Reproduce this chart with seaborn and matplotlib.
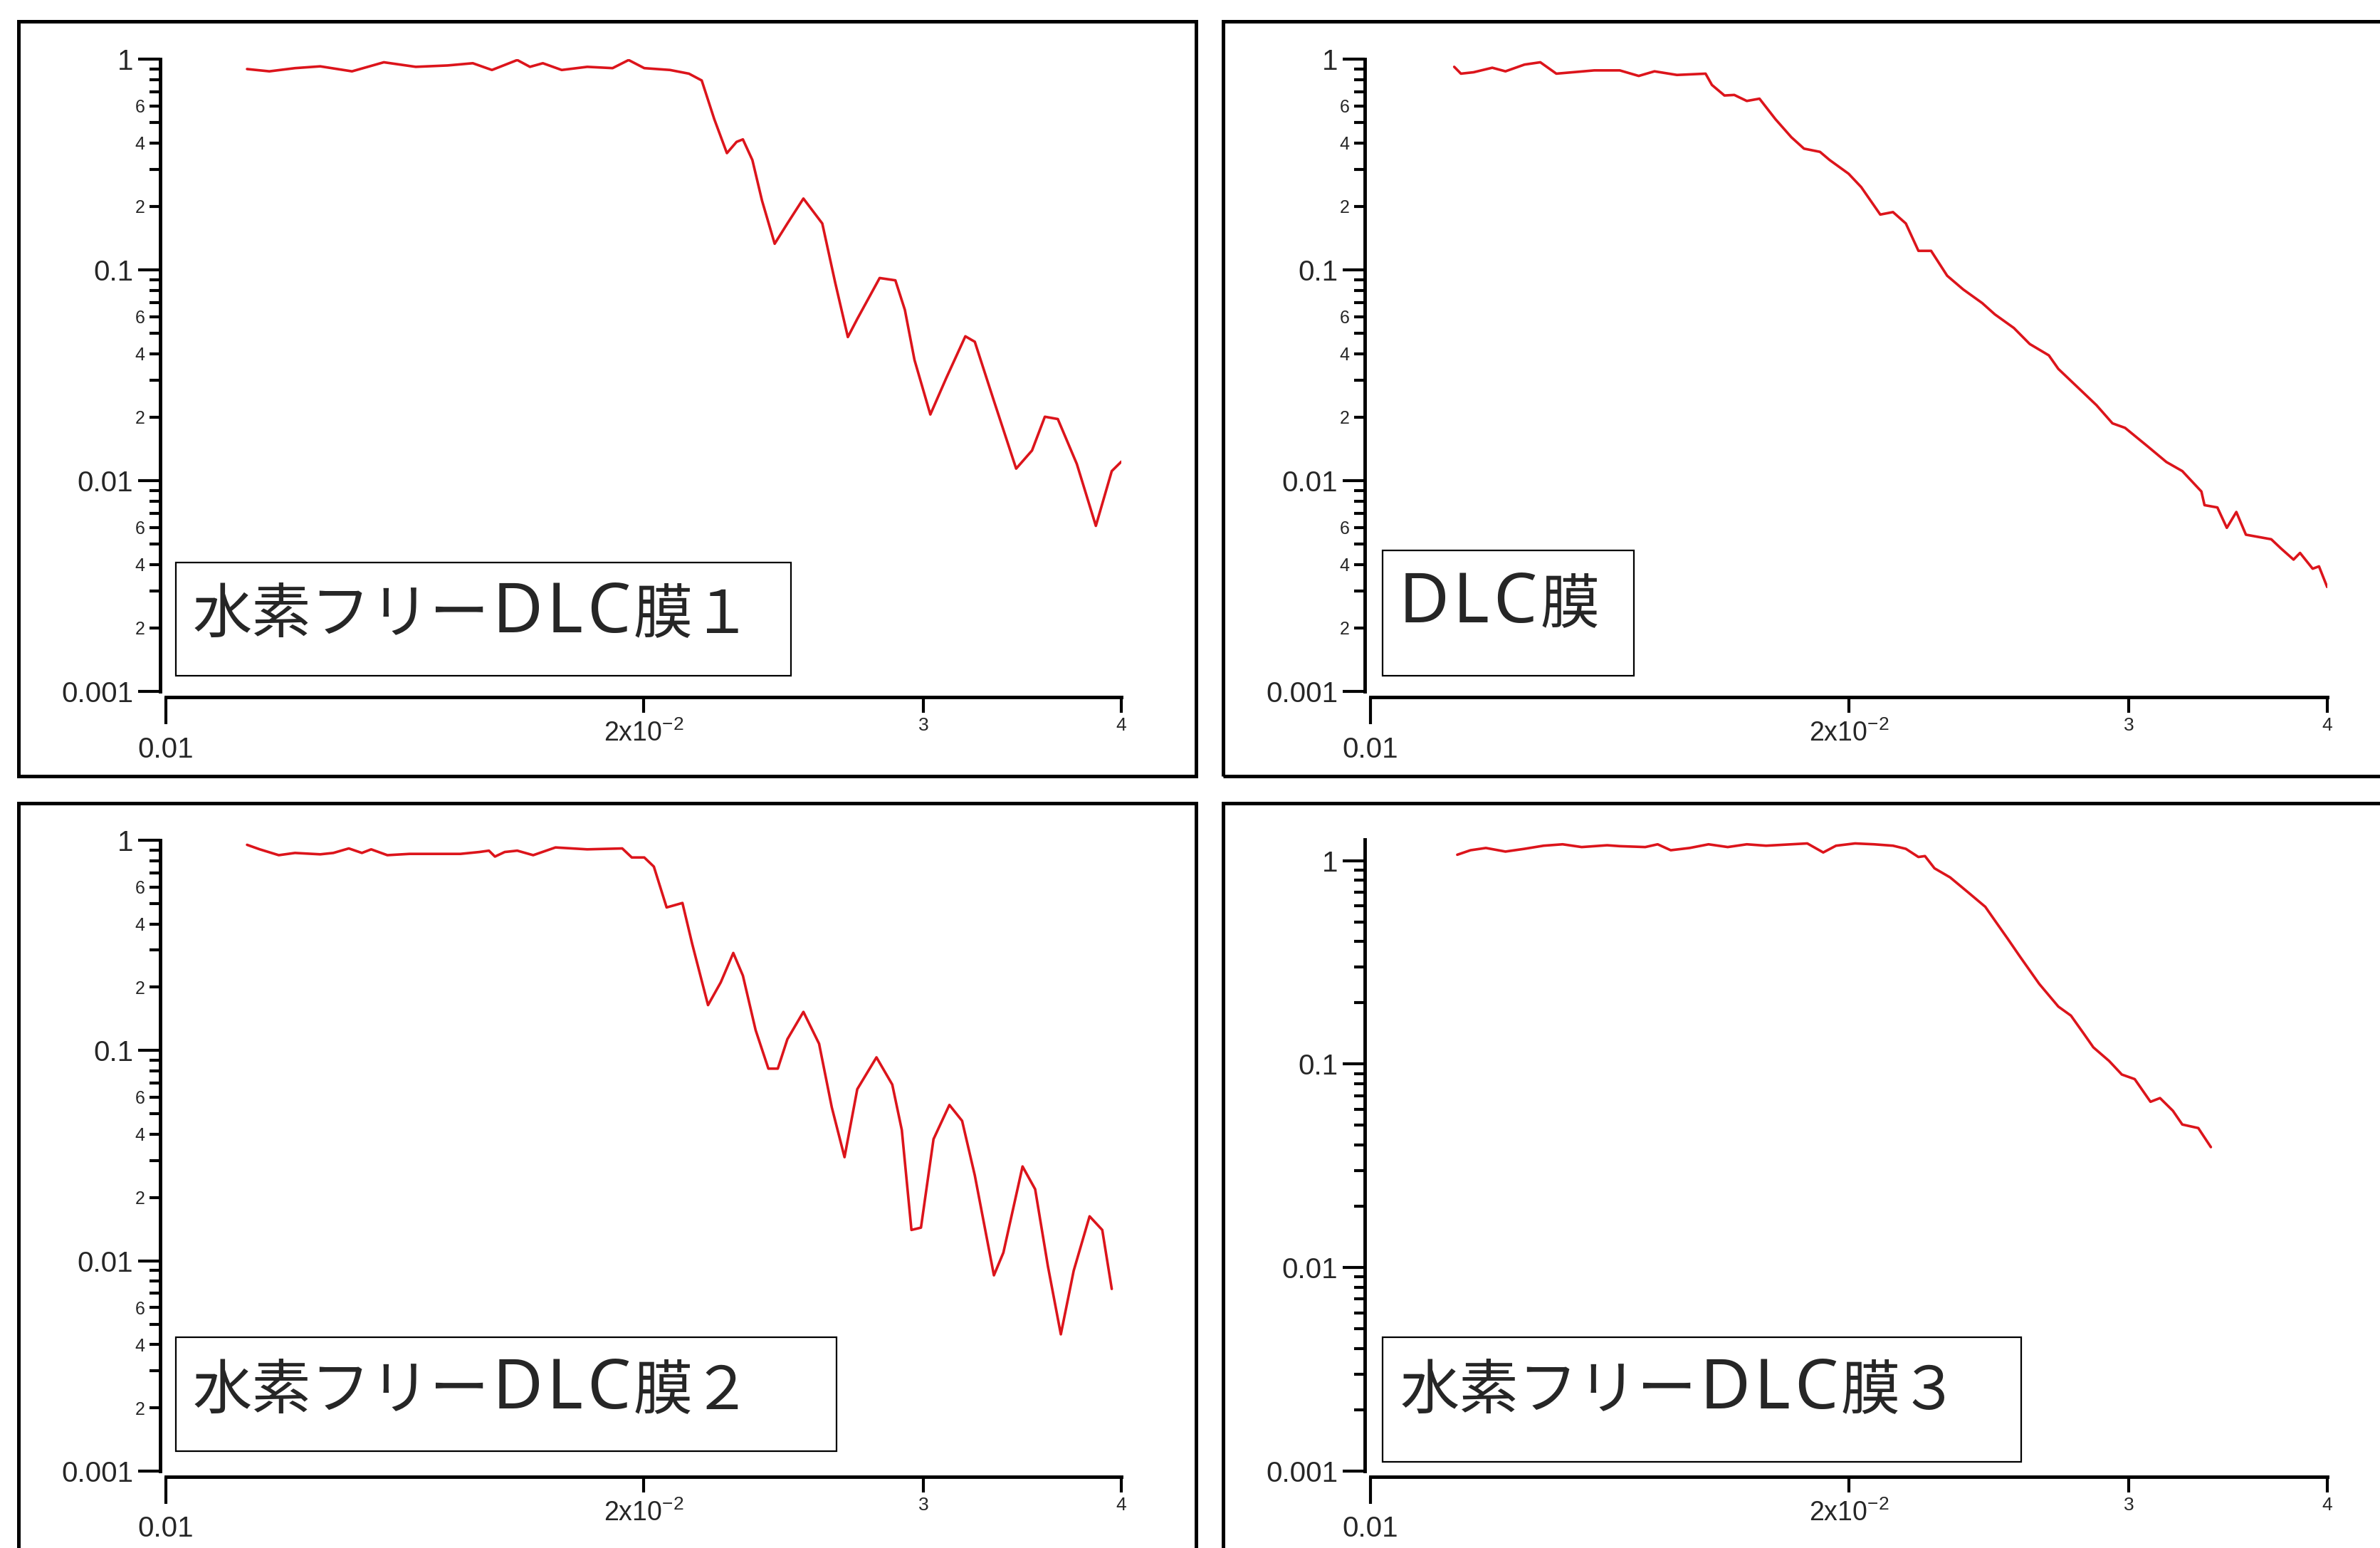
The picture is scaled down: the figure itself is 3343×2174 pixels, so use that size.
import numpy as np
import pandas as pd
import matplotlib
matplotlib.use("Agg")
import matplotlib.pyplot as plt
import seaborn as sns
from matplotlib.patches import Rectangle
from matplotlib.ticker import LogLocator, FuncFormatter, NullFormatter

# ---------------- data ----------------
labels = ["水素フリーDLC膜１", "DLC膜", "水素フリーDLC膜２", "水素フリーDLC膜３"]

x1 = [0.01125, 0.01162, 0.01206, 0.01251, 0.01310, 0.01372, 0.01437, 0.01505, 0.01561, 0.01605,
      0.01665, 0.01696, 0.01728, 0.01776, 0.01843, 0.01912, 0.01957, 0.02002, 0.02078, 0.02136,
      0.02176, 0.02216, 0.02257, 0.02289, 0.02310, 0.02342, 0.02375, 0.02419, 0.02464, 0.02522,
      0.02592, 0.02641, 0.02690, 0.02727, 0.02817, 0.02882, 0.02922, 0.02963, 0.03032, 0.03103,
      0.03190, 0.03234, 0.03325, 0.03434, 0.03514, 0.03580, 0.03648, 0.03750, 0.03855, 0.03945,
      0.04000]
y1 = [0.897, 0.875, 0.906, 0.924, 0.875, 0.966, 0.919, 0.933, 0.956, 0.888,
      0.990, 0.919, 0.956, 0.888, 0.919, 0.906, 0.990, 0.906, 0.888, 0.853,
      0.792, 0.519, 0.358, 0.405, 0.416, 0.332, 0.213, 0.133, 0.166, 0.218,
      0.166, 0.087, 0.048, 0.0585, 0.0915, 0.0892, 0.0646, 0.0374, 0.0206, 0.0307,
      0.0484, 0.0456, 0.0239, 0.0114, 0.0139, 0.0201, 0.0196, 0.0120, 0.0061, 0.0111,
      0.0123]

x2 = [0.01129, 0.01140, 0.01161, 0.01193, 0.01216, 0.01250, 0.01279, 0.01309, 0.01383, 0.01435,
      0.01475, 0.01509, 0.01559, 0.01625, 0.01640, 0.01670, 0.01694, 0.01725, 0.01757, 0.01798,
      0.01840, 0.01874, 0.01918, 0.01945, 0.01999, 0.02036, 0.02093, 0.02132, 0.02172, 0.02212,
      0.02253, 0.02306, 0.02360, 0.02426, 0.02471, 0.02540, 0.02599, 0.02672, 0.02709, 0.02785,
      0.02863, 0.02930, 0.02984, 0.03082, 0.03168, 0.03242, 0.03333, 0.03348, 0.03411, 0.03458,
      0.03506, 0.03555, 0.03688, 0.03740, 0.03809, 0.03845, 0.03916, 0.03952, 0.03999]
y2 = [0.919, 0.853, 0.866, 0.910, 0.875, 0.942, 0.966, 0.853, 0.884, 0.884,
      0.832, 0.875, 0.841, 0.853, 0.754, 0.672, 0.676, 0.633, 0.649, 0.519,
      0.426, 0.376, 0.363, 0.332, 0.286, 0.247, 0.183, 0.188, 0.166, 0.1231,
      0.1231, 0.0938, 0.0808, 0.0696, 0.0615, 0.0530, 0.0445, 0.0393, 0.0339, 0.0278,
      0.0228, 0.0187, 0.0178, 0.01458, 0.01226, 0.0111, 0.00888, 0.00765, 0.00746, 0.00597,
      0.0071, 0.00554, 0.00527, 0.00477, 0.00422, 0.00454, 0.00382, 0.00392, 0.00313]

x3 = [0.01125, 0.01146, 0.01178, 0.01206, 0.01251, 0.01275, 0.01304, 0.01329, 0.01347, 0.01379,
      0.01424, 0.01477, 0.01533, 0.01576, 0.01598, 0.01612, 0.01635, 0.01665, 0.01704, 0.01760,
      0.01843, 0.01939, 0.01966, 0.02002, 0.02030, 0.02068, 0.02116, 0.02146, 0.02196, 0.02237,
      0.02278, 0.02310, 0.02353, 0.02397, 0.02430, 0.02464, 0.02522, 0.02580, 0.02628, 0.02677,
      0.02727, 0.02804, 0.02869, 0.02909, 0.02950, 0.02991, 0.03046, 0.03117, 0.03175, 0.03234,
      0.03325, 0.03371, 0.03466, 0.03530, 0.03596, 0.03664, 0.03733, 0.03820, 0.03891, 0.03945]
y3 = [0.951, 0.905, 0.849, 0.870, 0.857, 0.870, 0.914, 0.870, 0.905, 0.849,
      0.861, 0.861, 0.861, 0.879, 0.892, 0.836, 0.879, 0.892, 0.849, 0.924,
      0.905, 0.914, 0.828, 0.828, 0.749, 0.479, 0.503, 0.322, 0.1644, 0.211,
      0.291, 0.227, 0.1251, 0.0820, 0.0820, 0.1132, 0.1527, 0.1077, 0.0537, 0.0311,
      0.0655, 0.0928, 0.0689, 0.0419, 0.01402, 0.01438, 0.0379, 0.0551, 0.0463, 0.0255,
      0.00853, 0.01094, 0.0281, 0.0219, 0.00942, 0.00447, 0.00897, 0.01628, 0.01402, 0.00735]

x4 = [0.01134, 0.01156, 0.01182, 0.01216, 0.01250, 0.01285, 0.01321, 0.01358, 0.01409, 0.01435,
      0.01489, 0.01516, 0.01545, 0.01588, 0.01632, 0.01678, 0.01725, 0.01774, 0.01840, 0.01883,
      0.01927, 0.01963, 0.02018, 0.02074, 0.02132, 0.02172, 0.02212, 0.02233, 0.02264, 0.02316,
      0.02381, 0.02437, 0.02471, 0.02517, 0.02563, 0.02635, 0.02709, 0.02759, 0.02811, 0.02850,
      0.02916, 0.02970, 0.03026, 0.03096, 0.03139, 0.03198, 0.03242, 0.03318, 0.03379]
y4 = [1.069, 1.125, 1.154, 1.108, 1.143, 1.184, 1.203, 1.166, 1.190, 1.178,
      1.166, 1.203, 1.125, 1.154, 1.203, 1.166, 1.203, 1.184, 1.203, 1.215,
      1.097, 1.184, 1.215, 1.203, 1.184, 1.143, 1.042, 1.053, 0.917, 0.827,
      0.691, 0.593, 0.508, 0.414, 0.337, 0.248, 0.1918, 0.1731, 0.1410, 0.1209,
      0.1036, 0.0889, 0.0844, 0.0653, 0.0681, 0.0590, 0.0505, 0.0485, 0.0391]

x_major = [0.01]
x_major_labels = ["0.01"]
x_minor = [0.02, 0.03, 0.04]
x_minor_labels = ["2x10$^{\\mathregular{-2}}$", "$^{\\mathregular{3}}$", "$^{\\mathregular{4}}$"]
y_major = [0.001, 0.01, 0.1, 1]
y_major_labels = ["0.001", "0.01", "0.1", "1"]
y_minor_labelled = [2, 4, 6]

# ---------------- style ----------------
sns.set_style("ticks")
plt.rcParams["font.family"] = ["Liberation Sans Narrow", "Liberation Sans", "DejaVu Sans"]
plt.rcParams["mathtext.fontset"] = "custom"
plt.rcParams["mathtext.rm"] = "Liberation Sans"
plt.rcParams["axes.unicode_minus"] = False
plt.rcParams["xtick.bottom"] = True
plt.rcParams["ytick.left"] = True

RED = "#dc141b"
W, H = 3343, 2174
fig = plt.figure(figsize=(W / 100, H / 100), dpi=100)


def fx(px):
    return px / W


def fy(py):
    return 1 - py / H


panels = [
    dict(rect=[fx(233), fy(971), fx(1575) - fx(233), fy(83) - fy(971)], x=x1, y=y1,
         ylim=(0.001, 1.0), minor_lab=True),
    dict(rect=[fx(1925), fy(971), fx(3269) - fx(1925), fy(83) - fy(971)], x=x2, y=y2,
         ylim=(0.001, 1.0), minor_lab=True),
    dict(rect=[fx(233), fy(2066), fx(1575) - fx(233), fy(1180) - fy(2066)], x=x3, y=y3,
         ylim=(0.001, 1.0), minor_lab=True),
    dict(rect=[fx(1925), fy(2066), fx(3269) - fx(1925), fy(1179) - fy(2066)], x=x4, y=y4,
         ylim=(0.001, 1.27), minor_lab=False),
]


def minor_fmt(v, pos):
    m = v / 10 ** np.floor(np.log10(v) + 1e-9)
    mi = int(round(m))
    return str(mi) if mi in y_minor_labelled else ""


for p in panels:
    ax = fig.add_axes(p["rect"])
    df = pd.DataFrame({"q": p["x"], "r": p["y"]})
    sns.lineplot(data=df, x="q", y="r", ax=ax, color=RED, linewidth=2.6,
                 sort=False, estimator=None, legend=False)
    ax.set_xscale("log")
    ax.set_yscale("log")
    ax.set_xlim(0.01, 0.04)
    ax.set_ylim(*p["ylim"])
    ax.set_xlabel("")
    ax.set_ylabel("")
    ax.set_facecolor("none")
    for s in ["top", "right"]:
        ax.spines[s].set_visible(False)
    for s in ["left", "bottom"]:
        ax.spines[s].set_position(("outward", 6))
        ax.spines[s].set_linewidth(3.5)
        ax.spines[s].set_color("black")
    ax.set_xticks(x_major)
    ax.set_xticklabels(x_major_labels)
    ax.set_xticks(x_minor, minor=True)
    ax.set_xticklabels(x_minor_labels, minor=True)
    ax.set_yticks(y_major)
    ax.set_yticklabels(y_major_labels)
    ax.yaxis.set_minor_locator(LogLocator(base=10, subs=np.arange(2, 10), numticks=30))
    if p["minor_lab"]:
        ax.yaxis.set_minor_formatter(FuncFormatter(minor_fmt))
    else:
        ax.yaxis.set_minor_formatter(NullFormatter())
    ax.set_ylim(*p["ylim"])
    ax.tick_params(axis="x", which="major", length=27, width=3, pad=12, labelsize=29,
                   direction="out", color="black", bottom=True)
    ax.tick_params(axis="x", which="minor", length=16, width=3, pad=7, labelsize=27,
                   direction="out", color="black", bottom=True)
    ax.tick_params(axis="y", which="major", length=22, width=3, pad=5, labelsize=29,
                   direction="out", color="black", left=True)
    ax.tick_params(axis="y", which="minor", length=11, width=3, pad=4, labelsize=18,
                   direction="out", color="black", left=True)
    ax.grid(False)

# outer frames
frames = [
    (26, 30, 1680, 1090),
    (1718, 30, 3400, 1090),
    (26, 1128, 1680, 2250),
    (1718, 1128, 3400, 2250),
]
for (a, b, c, d) in frames:
    fig.add_artist(Rectangle((fx(a), fy(d)), fx(c) - fx(a), fy(b) - fy(d),
                             transform=fig.transFigure, fill=False, lw=3.6,
                             ec="black", clip_on=False))

# label boxes
boxes = [
    (247, 790, 1111, 949),
    (1942, 773, 2295, 949),
    (247, 1878, 1175, 2038),
    (1942, 1878, 2839, 2053),
]
text_pos = [(271, 888), (1965, 874), (271, 1978), (1967, 1978)]
CJK = ["Noto Sans CJK JP", "DejaVu Sans"]
LAT = ["Noto Sans", "DejaVu Sans"]

renderer = fig.canvas.get_renderer()


def split_runs(s):
    runs = []
    for ch in s:
        kind = "lat" if ord(ch) < 128 else "cjk"
        if runs and runs[-1][1] == kind:
            runs[-1][0] += ch
        else:
            runs.append([ch, kind])
    return runs


for (a, b, c, d), (tx, ty), lab in zip(boxes, text_pos, labels):
    fig.add_artist(Rectangle((fx(a), fy(d)), fx(c) - fx(a), fy(b) - fy(d),
                             transform=fig.transFigure, fill=True, fc="white", lw=1.6,
                             ec="black", clip_on=False, zorder=5))
    xpos = tx
    for run, kind in split_runs(lab):
        if kind == "cjk":
            t = fig.text(fx(xpos), fy(ty), run, ha="left", va="baseline", fontsize=60,
                         family=CJK, fontweight="normal", zorder=6)
            bb = t.get_window_extent(renderer)
            xpos = bb.x1 + 4
        else:
            for ch in run:
                t = fig.text(fx(xpos), fy(ty), ch, ha="left", va="baseline", fontsize=70,
                             family=LAT, fontweight="light", zorder=6)
                bb = t.get_window_extent(renderer)
                xpos = bb.x1 + 5

fig.savefig("out.png", dpi=100, facecolor="white")
